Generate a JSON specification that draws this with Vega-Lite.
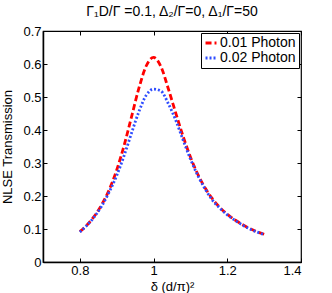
{
  "$schema": "https://vega.github.io/schema/vega-lite/v6.json",
  "width": 258,
  "height": 231,
  "autosize": {"type": "none"},
  "padding": {"left": 43, "top": 31, "right": 31, "bottom": 31},
  "background": "white",
  "title": {"text": "Γ₁D/Γ =0.1, Δ₂/Γ=0,  Δ₁/Γ=50", "font": "Liberation Sans", "fontSize": 14, "fontWeight": "normal", "color": "black", "offset": 6},
  "config": {
    "view": {"stroke": "black", "strokeWidth": 1.2},
    "axis": {"labelFont": "Liberation Sans", "labelFontSize": 13, "labelColor": "black", "titleFont": "Liberation Sans", "titleFontSize": 13, "titleFontWeight": "normal", "titleColor": "black", "domainColor": "black", "domainWidth": 1.5, "tickColor": "black", "tickSize": -4, "grid": false, "labelPadding": 6}
  },
  "data": {"values": [
    {"x": 0.80, "y": 0.092, "s": "0.01 Photon"},
    {"x": 0.82, "y": 0.113, "s": "0.01 Photon"},
    {"x": 0.84, "y": 0.140, "s": "0.01 Photon"},
    {"x": 0.86, "y": 0.175, "s": "0.01 Photon"},
    {"x": 0.88, "y": 0.220, "s": "0.01 Photon"},
    {"x": 0.90, "y": 0.279, "s": "0.01 Photon"},
    {"x": 0.92, "y": 0.353, "s": "0.01 Photon"},
    {"x": 0.94, "y": 0.439, "s": "0.01 Photon"},
    {"x": 0.96, "y": 0.526, "s": "0.01 Photon"},
    {"x": 0.98, "y": 0.594, "s": "0.01 Photon"},
    {"x": 1.00, "y": 0.620, "s": "0.01 Photon"},
    {"x": 1.02, "y": 0.592, "s": "0.01 Photon"},
    {"x": 1.04, "y": 0.525, "s": "0.01 Photon"},
    {"x": 1.06, "y": 0.452, "s": "0.01 Photon"},
    {"x": 1.08, "y": 0.381, "s": "0.01 Photon"},
    {"x": 1.10, "y": 0.318, "s": "0.01 Photon"},
    {"x": 1.12, "y": 0.266, "s": "0.01 Photon"},
    {"x": 1.14, "y": 0.224, "s": "0.01 Photon"},
    {"x": 1.16, "y": 0.191, "s": "0.01 Photon"},
    {"x": 1.18, "y": 0.165, "s": "0.01 Photon"},
    {"x": 1.20, "y": 0.145, "s": "0.01 Photon"},
    {"x": 1.22, "y": 0.128, "s": "0.01 Photon"},
    {"x": 1.24, "y": 0.114, "s": "0.01 Photon"},
    {"x": 1.26, "y": 0.102, "s": "0.01 Photon"},
    {"x": 1.28, "y": 0.092, "s": "0.01 Photon"},
    {"x": 1.30, "y": 0.084, "s": "0.01 Photon"},
    {"x": 0.80, "y": 0.091, "s": "0.02 Photon"},
    {"x": 0.82, "y": 0.112, "s": "0.02 Photon"},
    {"x": 0.84, "y": 0.138, "s": "0.02 Photon"},
    {"x": 0.86, "y": 0.171, "s": "0.02 Photon"},
    {"x": 0.88, "y": 0.213, "s": "0.02 Photon"},
    {"x": 0.90, "y": 0.262, "s": "0.02 Photon"},
    {"x": 0.92, "y": 0.322, "s": "0.02 Photon"},
    {"x": 0.94, "y": 0.390, "s": "0.02 Photon"},
    {"x": 0.96, "y": 0.455, "s": "0.02 Photon"},
    {"x": 0.98, "y": 0.505, "s": "0.02 Photon"},
    {"x": 1.00, "y": 0.524, "s": "0.02 Photon"},
    {"x": 1.02, "y": 0.518, "s": "0.02 Photon"},
    {"x": 1.04, "y": 0.480, "s": "0.02 Photon"},
    {"x": 1.06, "y": 0.430, "s": "0.02 Photon"},
    {"x": 1.08, "y": 0.370, "s": "0.02 Photon"},
    {"x": 1.10, "y": 0.312, "s": "0.02 Photon"},
    {"x": 1.12, "y": 0.262, "s": "0.02 Photon"},
    {"x": 1.14, "y": 0.221, "s": "0.02 Photon"},
    {"x": 1.16, "y": 0.187, "s": "0.02 Photon"},
    {"x": 1.18, "y": 0.163, "s": "0.02 Photon"},
    {"x": 1.20, "y": 0.143, "s": "0.02 Photon"},
    {"x": 1.22, "y": 0.127, "s": "0.02 Photon"},
    {"x": 1.24, "y": 0.113, "s": "0.02 Photon"},
    {"x": 1.26, "y": 0.101, "s": "0.02 Photon"},
    {"x": 1.28, "y": 0.091, "s": "0.02 Photon"},
    {"x": 1.30, "y": 0.083, "s": "0.02 Photon"}
  ]},
  "layer": [
    {
      "mark": {"type": "line", "strokeWidth": 2.8, "interpolate": "monotone"},
      "encoding": {
        "x": {"field": "x", "type": "quantitative", "scale": {"domain": [0.7, 1.4], "nice": false, "zero": false}, "axis": {"values": [0.8, 1, 1.2, 1.4], "format": "~g", "title": "δ (d/π)²", "titlePadding": 3}},
        "y": {"field": "y", "type": "quantitative", "scale": {"domain": [0, 0.7], "nice": false}, "axis": {"values": [0, 0.1, 0.2, 0.3, 0.4, 0.5, 0.6, 0.7], "format": "~g", "title": "NLSE Transmission", "titlePadding": 8}},
        "color": {"field": "s", "type": "nominal", "scale": {"domain": ["0.01 Photon", "0.02 Photon"], "range": ["#ff0000", "#2f4dff"]}, "legend": {"title": null, "orient": "top-right", "offset": 2, "strokeColor": "black", "fillColor": "white", "padding": 3, "labelFont": "Liberation Sans", "labelFontSize": 14, "labelColor": "black", "symbolType": "stroke", "symbolSize": 120, "symbolStrokeWidth": 2.8, "rowPadding": 1, "labelOffset": 2}},
        "strokeDash": {"field": "s", "type": "nominal", "scale": {"domain": ["0.01 Photon", "0.02 Photon"], "range": [[6, 3], [2, 2]]}, "legend": null}
      }
    },
    {
      "mark": {"type": "line", "opacity": 0},
      "encoding": {
        "x": {"field": "x", "type": "quantitative", "axis": {"orient": "top", "values": [0.8, 1, 1.2, 1.4], "labels": false, "title": null, "domain": false}},
        "y": {"field": "y", "type": "quantitative", "axis": {"orient": "right", "values": [0, 0.1, 0.2, 0.3, 0.4, 0.5, 0.6, 0.7], "labels": false, "title": null, "domain": false}},
        "detail": {"field": "s"}
      }
    }
  ],
  "resolve": {"axis": {"x": "independent", "y": "independent"}}
}
